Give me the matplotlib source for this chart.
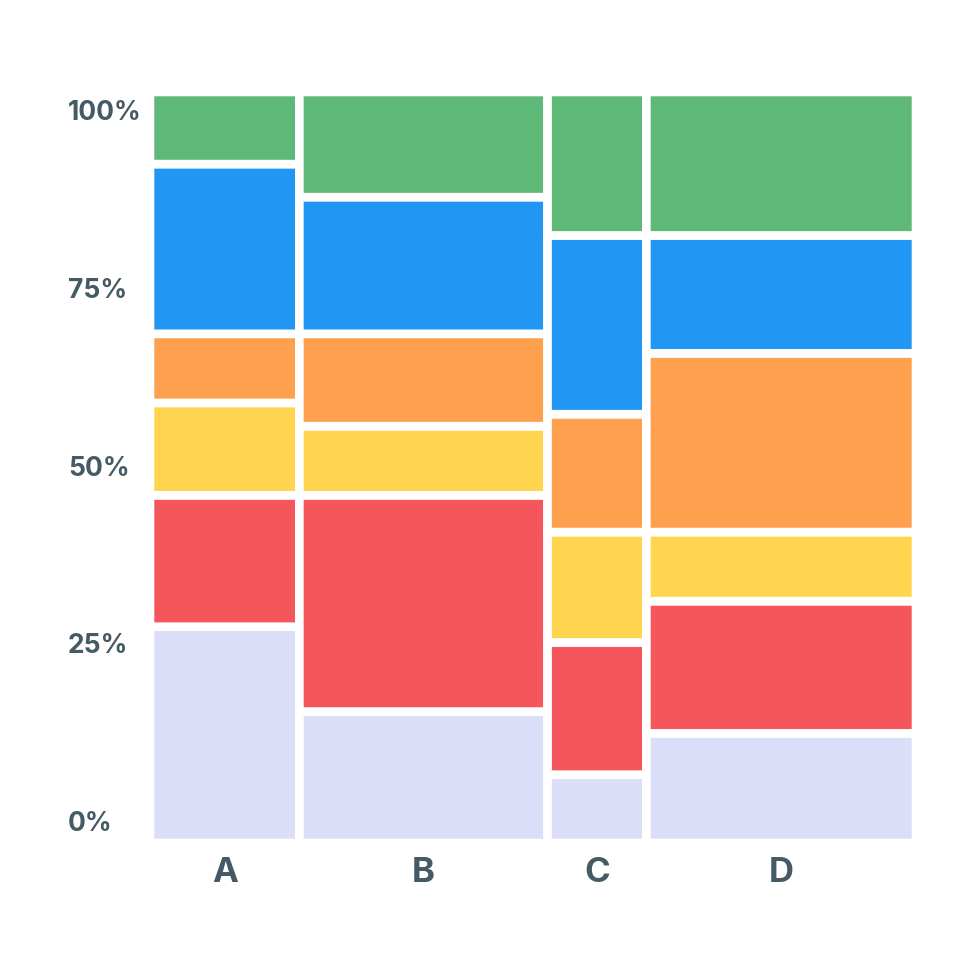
import numpy as np
import matplotlib
matplotlib.use('Agg')
import matplotlib.pyplot as plt

plt.rcParams['font.family'] = ['Inter', 'DejaVu Sans']

# column widths and segment shares (bottom to top), in percent
names = ['A', 'B', 'C', 'D']
widths = [19.5, 32.4, 12.9, 35.2]
colors = ['#dadef9', '#f5565b', '#ffd54f', '#ffa04e', '#2196f3', '#5eb878']
shares = {
    'A': [28.8, 17.5, 12.3, 9.2, 22.6, 9.6],
    'B': [17.5, 28.8, 9.2, 12.3, 18.2, 14.0],
    'C': [9.1, 17.6, 14.7, 15.7, 23.8, 19.1],
    'D': [14.6, 17.6, 9.2, 23.8, 15.7, 19.1],
}
labelColor = '#455a64'

fig = plt.figure(figsize=(9.8, 9.8), dpi=100)
ax = fig.add_axes([150/980, 1-843/980, 766/980, 751/980])

lefts = np.cumsum([0] + widths[:-1])
for name, left, w in zip(names, lefts, widths):
    bottom = 0
    for share, col in zip(shares[name], colors):
        # thick white edge makes the gaps between the tiles
        ax.bar(left, share, width=w, bottom=bottom, align='edge',
               color=col, edgecolor='white', linewidth=6.2, snap=False)
        bottom += share

ax.set_xlim(0, sum(widths))
ax.set_ylim(0, 100)
for s in ax.spines.values():
    s.set_visible(False)

ax.set_xticks(lefts + np.array(widths)/2)
ax.set_xticklabels(names, fontsize=25, fontweight='bold', color=labelColor)
ax.tick_params(axis='x', length=0, pad=10)

ax.set_yticks([2.9, 26.6, 50.2, 73.9, 97.6])
ax.set_yticklabels(['0%', '25%', '50%', '75%', '100%'], fontsize=19,
                   fontweight='bold', color=labelColor, ha='left')
ax.tick_params(axis='y', length=0, pad=59)

plt.savefig('out.png', dpi=100, facecolor='white')
